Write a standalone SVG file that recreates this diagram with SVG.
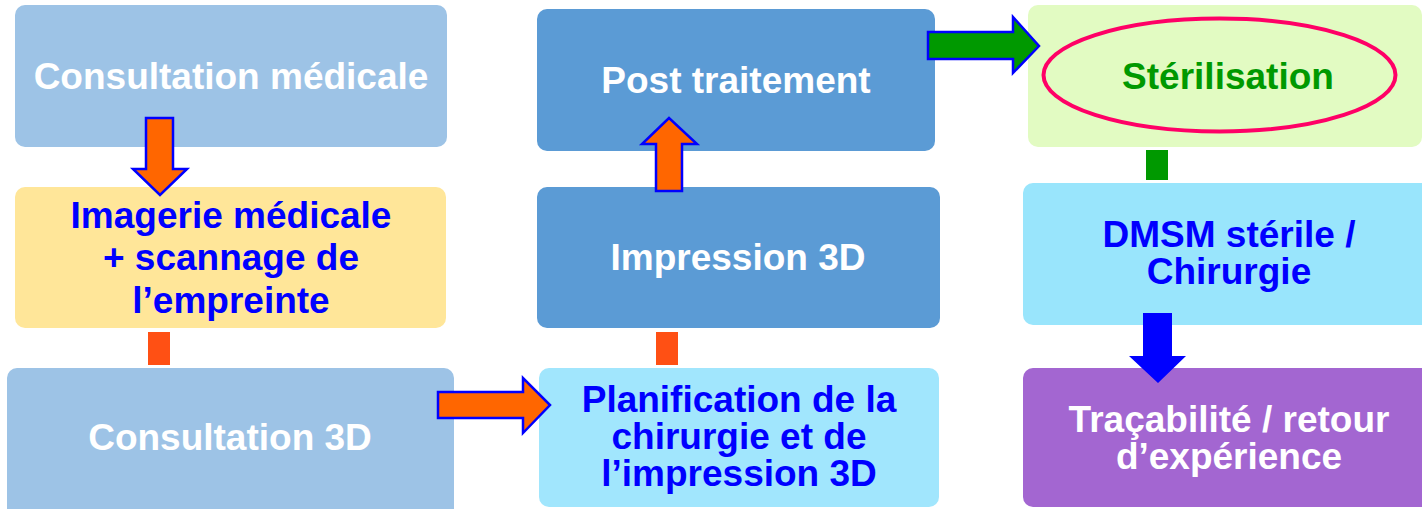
<svg xmlns="http://www.w3.org/2000/svg" width="1422" height="509" viewBox="0 0 1422 509">
  <style>
    .box { stroke: none; }
    .lbl { font-family: "Liberation Sans", Arial, sans-serif; font-weight: bold; font-size: 37px; text-anchor: middle; }
    .white { fill: #FFFFFF; }
    .blue { fill: #0000FF; }
    .green { fill: #009900; }
    .arrow-o { fill: #FF6600; stroke: #0000FF; stroke-width: 2.5; stroke-linejoin: miter; }
    .arrow-g { fill: #009900; stroke: #0000FF; stroke-width: 2.5; stroke-linejoin: miter; }
    .link-o { fill: #FF5014; }
    .link-g { fill: #009900; }
  </style>
  <rect width="1422" height="509" fill="#FFFFFF"/>

  <!-- Left column -->
  <g id="consultation-medicale">
    <rect class="box" x="15" y="5" width="432" height="142" rx="10" fill="#9DC3E6"/>
    <text class="lbl white" x="231" y="89">Consultation médicale</text>
  </g>
  <g id="imagerie-medicale">
    <rect class="box" x="15" y="187" width="431" height="141" rx="10" fill="#FFE699"/>
    <text class="lbl blue" x="231" y="228">Imagerie médicale</text>
    <text class="lbl blue" x="231" y="270">+ scannage de</text>
    <text class="lbl blue" x="231" y="313">l’empreinte</text>
  </g>
  <g id="consultation-3d">
    <rect class="box" x="7" y="368" width="447" height="150" rx="10" fill="#9DC3E6"/>
    <text class="lbl white" x="230" y="450">Consultation 3D</text>
  </g>

  <!-- Middle column -->
  <g id="post-traitement">
    <rect class="box" x="537" y="9" width="398" height="142" rx="10" fill="#5B9BD5"/>
    <text class="lbl white" x="736" y="93">Post traitement</text>
  </g>
  <g id="impression-3d">
    <rect class="box" x="537" y="187" width="403" height="141" rx="10" fill="#5B9BD5"/>
    <text class="lbl white" x="738" y="270">Impression 3D</text>
  </g>
  <g id="planification">
    <rect class="box" x="539" y="368" width="400" height="139" rx="10" fill="#A1E6FD"/>
    <text class="lbl blue" x="739" y="412">Planification de la</text>
    <text class="lbl blue" x="739" y="449">chirurgie et de</text>
    <text class="lbl blue" x="739" y="486">l’impression 3D</text>
  </g>

  <!-- Right column -->
  <g id="sterilisation">
    <rect class="box" x="1028" y="5" width="394" height="142" rx="10" fill="#E2FBC2"/>
    <ellipse cx="1219.5" cy="75" rx="176" ry="56.5" fill="none" stroke="#FF0066" stroke-width="4"/>
    <text class="lbl green" x="1228" y="89">Stérilisation</text>
  </g>
  <g id="dmsm-sterile">
    <rect class="box" x="1023" y="183" width="412" height="142" rx="10" fill="#99E5FC"/>
    <text class="lbl blue" x="1229" y="247">DMSM stérile /</text>
    <text class="lbl blue" x="1229" y="284">Chirurgie</text>
  </g>
  <g id="tracabilite">
    <rect class="box" x="1023" y="368" width="412" height="139" rx="10" fill="#A366D1"/>
    <text class="lbl white" x="1229" y="432">Traçabilité / retour</text>
    <text class="lbl white" x="1229" y="469">d’expérience</text>
  </g>

  <!-- Connectors -->
  <g id="connectors">
    <!-- Consultation médicale to Imagerie -->
    <polygon class="arrow-o" points="146,118 173,118 173,169 187,169 160,195 133,169 146,169"/>
    <!-- Imagerie to Consultation 3D -->
    <rect class="link-o" x="148" y="332" width="22" height="33"/>
    <!-- Consultation 3D to Planification -->
    <polygon class="arrow-o" points="438,392 523,392 523,378 550,405 523,433 523,418 438,418"/>
    <!-- Planification to Impression 3D -->
    <rect class="link-o" x="656" y="332" width="22" height="33"/>
    <!-- Impression 3D to Post traitement -->
    <polygon class="arrow-o" points="656,191 682,191 682,144 697,144 669,118 642,144 656,144"/>
    <!-- Post traitement to Stérilisation -->
    <polygon class="arrow-g" points="928,32 1013,32 1013,17 1039,46 1013,73 1013,59 928,59"/>
    <!-- Stérilisation to DMSM -->
    <rect class="link-g" x="1146" y="150" width="22" height="30"/>
    <!-- DMSM to Traçabilité -->
    <polygon fill="#0000FF" points="1143,313 1172,313 1172,356 1186,356 1158,383 1129,356 1143,356"/>
  </g>
</svg>
